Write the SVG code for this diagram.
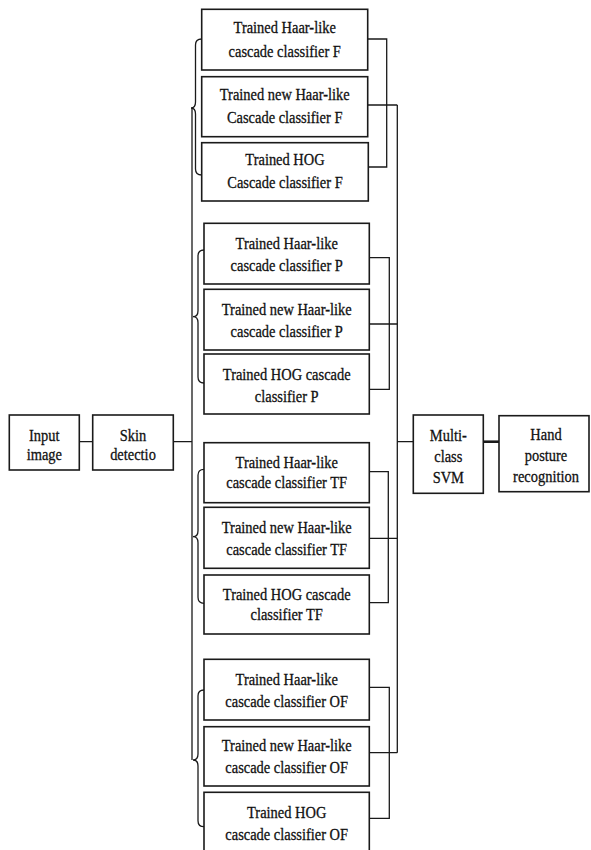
<svg xmlns="http://www.w3.org/2000/svg" width="591" height="850" viewBox="0 0 591 850">
<style>
.box{fill:#fff;stroke:#1a1a1a;stroke-width:1.6}
.ln{fill:none;stroke:#1a1a1a;stroke-width:1.3}
.br{fill:none;stroke:#1a1a1a;stroke-width:1.3}
text{font-family:"Liberation Serif","Times New Roman",serif;font-size:17px;fill:#111;stroke:#111;stroke-width:0.3;text-anchor:middle}
</style>
<rect width="591" height="850" fill="#fff"/>
<g id="connectors">
<path class="ln" d="M79.3 441.7H92.7M173.3 441.7H192M192 108V760"/>
<path class="ln" d="M397.3 105V752.7M397.3 441.7H413.3"/>
<path class="ln" style="stroke-width:2.6" d="M483.3 441.7H499"/>
<path class="ln" d="M367.7 39H386.7V167H368M367.7 105H397.3"/>
<path class="ln" d="M369.3 257.7H389.3V389.3H369.3M369.3 324H397.3"/>
<path class="ln" d="M369.3 471.7H388.3V602.7H369.3M369.3 538.3H397.3"/>
<path class="ln" d="M369.3 687.3H389.3V818.3H369.3M369.3 752.7H397.3"/>
<path class="br" d="M201.7 39Q195.5 39 195.5 45V102Q195.5 108 191 108Q195.5 108 195.5 114V169Q195.5 175 201.7 175"/>
<path class="br" d="M204 250Q198 250 198 256V310.7Q198 316.7 193 316.7Q198 316.7 198 322.7V377Q198 383 204 383"/>
<path class="br" d="M204 469.3Q198 469.3 198 475.3V530.7Q198 536.7 193 536.7Q198 536.7 198 542.7V597.3Q198 603.3 204 603.3"/>
<path class="br" d="M204 690Q198 690 198 696V754Q198 760 193 760Q198 760 198 766V820.7Q198 826.7 204 826.7"/>
</g>
<g id="input">
<rect class="box" x="9.3" y="415" width="70" height="55"/>
<text transform="translate(44.3 0) scale(0.85 1)" y="441">Input</text>
<text transform="translate(44.3 0) scale(0.85 1)" y="460">image</text>
</g>
<g id="skin">
<rect class="box" x="92.7" y="415" width="80.6" height="55"/>
<text transform="translate(133 0) scale(0.85 1)" y="441">Skin</text>
<text transform="translate(133 0) scale(0.85 1)" y="460">detectio</text>
</g>
<g id="f1">
<rect class="box" x="201.7" y="9.3" width="166" height="60.7"/>
<text transform="translate(284.7 0) scale(0.85 1)" y="33.3">Trained Haar-like</text>
<text transform="translate(284.7 0) scale(0.85 1)" y="56.7">cascade classifier  F</text>
</g>
<g id="f2">
<rect class="box" x="201.7" y="76.7" width="166" height="60"/>
<text transform="translate(284.7 0) scale(0.85 1)" y="100">Trained new Haar-like</text>
<text transform="translate(284.7 0) scale(0.85 1)" y="123.3">Cascade classifier F</text>
</g>
<g id="f3">
<rect class="box" x="201.7" y="142.7" width="166.6" height="58.3"/>
<text transform="translate(285 0) scale(0.85 1)" y="165">Trained HOG</text>
<text transform="translate(285 0) scale(0.85 1)" y="188.3">Cascade classifier F</text>
</g>
<g id="p1">
<rect class="box" x="204" y="223.3" width="165.3" height="60.7"/>
<text transform="translate(286.7 0) scale(0.85 1)" y="249.3">Trained Haar-like</text>
<text transform="translate(286.7 0) scale(0.85 1)" y="271">cascade classifier  P</text>
</g>
<g id="p2">
<rect class="box" x="204" y="289.3" width="165.3" height="60.7"/>
<text transform="translate(286.7 0) scale(0.85 1)" y="315">Trained new Haar-like</text>
<text transform="translate(286.7 0) scale(0.85 1)" y="336.7">cascade classifier  P</text>
</g>
<g id="p3">
<rect class="box" x="204" y="354" width="165.3" height="60"/>
<text transform="translate(286.7 0) scale(0.85 1)" y="380">Trained HOG cascade</text>
<text transform="translate(286.7 0) scale(0.85 1)" y="401.7">classifier P</text>
</g>
<g id="tf1">
<rect class="box" x="204" y="442.7" width="165.3" height="60"/>
<text transform="translate(286.7 0) scale(0.85 1)" y="468.3">Trained Haar-like</text>
<text transform="translate(286.7 0) scale(0.85 1)" y="488.3">cascade classifier  TF</text>
</g>
<g id="tf2">
<rect class="box" x="204" y="507.3" width="165.3" height="61"/>
<text transform="translate(286.7 0) scale(0.85 1)" y="533.3">Trained new Haar-like</text>
<text transform="translate(286.7 0) scale(0.85 1)" y="555">cascade classifier  TF</text>
</g>
<g id="tf3">
<rect class="box" x="204" y="575" width="165.3" height="59"/>
<text transform="translate(286.7 0) scale(0.85 1)" y="600">Trained HOG cascade</text>
<text transform="translate(286.7 0) scale(0.85 1)" y="620">classifier TF</text>
</g>
<g id="of1">
<rect class="box" x="204" y="659.3" width="165.3" height="60.7"/>
<text transform="translate(286.7 0) scale(0.85 1)" y="685">Trained Haar-like</text>
<text transform="translate(286.7 0) scale(0.85 1)" y="707.3">cascade classifier  OF</text>
</g>
<g id="of2">
<rect class="box" x="204" y="726.7" width="165.3" height="59.3"/>
<text transform="translate(286.7 0) scale(0.85 1)" y="750.7">Trained new Haar-like</text>
<text transform="translate(286.7 0) scale(0.85 1)" y="772.7">cascade classifier  OF</text>
</g>
<g id="of3">
<rect class="box" x="204" y="792.3" width="165.3" height="62"/>
<text transform="translate(286.7 0) scale(0.85 1)" y="818.3">Trained HOG</text>
<text transform="translate(286.7 0) scale(0.85 1)" y="840">cascade classifier  OF</text>
</g>
<g id="svm">
<rect class="box" x="413.3" y="415" width="70" height="78.3"/>
<text transform="translate(448.3 0) scale(0.85 1)" y="441">Multi-</text>
<text transform="translate(448.3 0) scale(0.85 1)" y="461.7">class</text>
<text transform="translate(448.3 0) scale(0.85 1)" y="482.7">SVM</text>
</g>
<g id="hand">
<rect class="box" x="499" y="415.7" width="90" height="76"/>
<text transform="translate(546 0) scale(0.85 1)" y="440">Hand</text>
<text transform="translate(546 0) scale(0.85 1)" y="461">posture</text>
<text transform="translate(546 0) scale(0.85 1)" y="482">recognition</text>
</g>
</svg>
